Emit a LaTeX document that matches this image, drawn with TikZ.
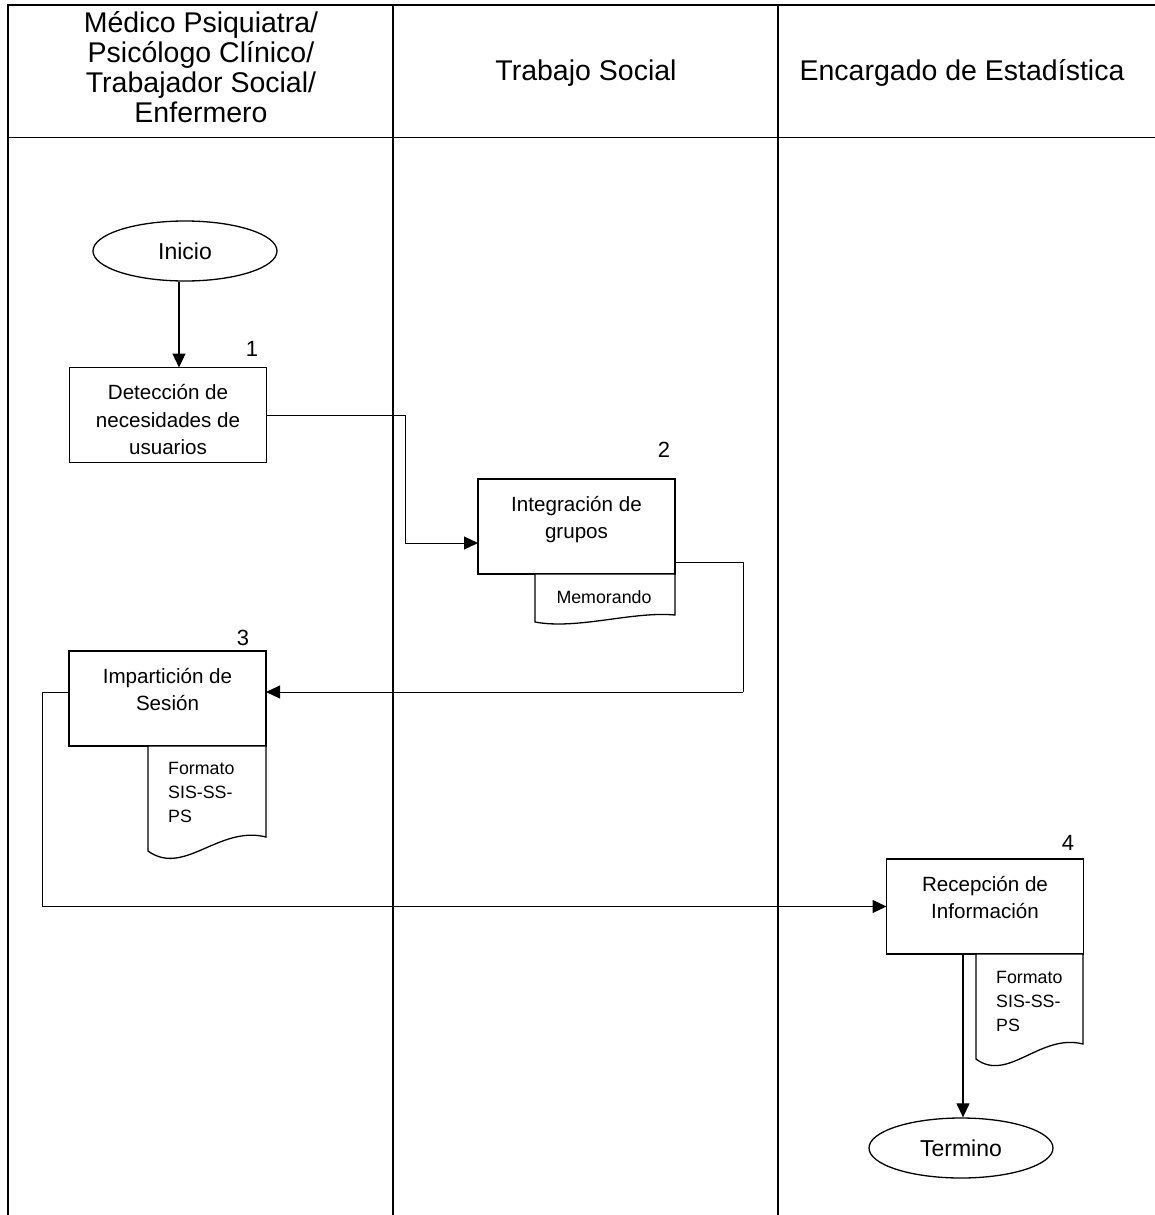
\documentclass[tikz,border=0pt]{standalone}
\usepackage{fontspec}
\setmainfont{Liberation Sans}
\usetikzlibrary{arrows.meta,shapes.geometric}

\begin{document}
\begin{tikzpicture}[x=1pt,y=-1pt,
  lane/.style={line width=2pt},
  thinrule/.style={line width=1pt},
  procbox/.style={draw, line width=1.3pt, rectangle, minimum width=197pt, minimum height=95pt, inner sep=0pt, outer sep=0pt},
  terminal/.style={draw, line width=1.3pt, ellipse, minimum width=184pt, minimum height=60pt, inner sep=0pt, font=\fontsize{23}{27}\selectfont},
  boxtext/.style={anchor=north, inner sep=0pt, align=center, font=\fontsize{20.6}{27.5}\selectfont},
  doctext/.style={anchor=north west, inner sep=0pt, align=left, font=\fontsize{17.8}{24}\selectfont},
  docshape/.style={draw, line width=1.3pt, fill=white},
  stepnum/.style={inner sep=0pt, font=\fontsize{22}{26}\selectfont},
  headtext/.style={inner sep=0pt, align=center, font=\fontsize{28.5}{30}\selectfont},
  conn/.style={line width=1pt},
  flow/.style={line width=1.2pt, -{Triangle[length=14pt,width=13pt]}},
  flowthin/.style={line width=1pt, -{Triangle[length=14pt,width=13pt]}}
]
\useasboundingbox (0,0) rectangle (1155,1215);

% swimlane frame
\draw[lane] (7.5,5) -- (1155,5);
\draw[lane] (7.5,4) -- (7.5,1215);
\draw[lane] (393,4) -- (393,1215);
\draw[lane] (778,4) -- (778,1215);
\draw[thinrule] (7.5,137) -- (1155,137);

% lane headings
\node[headtext] (h1) at (201,67) {Médico Psiquiatra/\\Psicólogo Clínico/\\Trabajador Social/\\Enfermero};
\node[headtext] (h2) at (586,73) {Trabajo Social};
\node[headtext] (h3) at (962,73) {Encargado de Estadística};

% terminals
\node[terminal] (start) at (185,251) {Inicio};
\node[terminal] (end) at (961,1148) {Termino};

% process boxes
\node[procbox] (b1) at (168,415) {};
\node[procbox] (b2) at (576.5,526.5) {};
\node[procbox] (b3) at (167.5,698.5) {};
\node[procbox] (b4) at (985,906.5) {};

\node[boxtext] (t1) at ([yshift=-12.7pt]b1.north) {\strut Detección de\\necesidades de\\usuarios};
\node[boxtext] (t2) at ([yshift=-12.7pt]b2.north) {\strut Integración de\\grupos};
\node[boxtext] (t3) at ([yshift=-12.7pt]b3.north) {\strut Impartición de\\Sesión};
\node[boxtext] (t4) at ([yshift=-12.7pt]b4.north) {\strut Recepción de\\Información};

% step numbers
\node[stepnum] (n1) at (252,349) {1};
\node[stepnum] (n2) at (664,450) {2};
\node[stepnum] (n3) at (243,638) {3};
\node[stepnum] (n4) at (1068,843) {4};

% documents attached below the boxes
\draw[docshape] (535,574) -- (675,574) -- (675,615)
  .. controls (633,611) and (577,630) .. (535,622) -- cycle;
\node[inner sep=0pt, font=\fontsize{17.8}{24}\selectfont] (d2) at (604,597) {Memorando};

\draw[docshape] (148,746) -- (266,746) -- (266,837)
  .. controls (219,825) and (184,877) .. (148,851) -- cycle;
\node[doctext] (d3) at (168,757.5) {\strut Formato\\SIS-SS-\\PS};

\draw[docshape] (976,954) -- (1083,954) -- (1083,1044)
  .. controls (1040,1033) and (1008,1083) .. (976,1059) -- cycle;
\node[doctext] (d4) at (996,966) {\strut Formato\\SIS-SS-\\PS};

% connectors
\coordinate (k1) at (405,0);
\coordinate (k2) at (743,0);
\coordinate (k3) at (42,0);
\coordinate (in2) at ([yshift=-16.5pt]b2.west);
\coordinate (out2) at ([yshift=12pt]b2.south east);
\coordinate (in3) at ([yshift=6.5pt]b3.east);
\coordinate (out3) at ([yshift=6.5pt]b3.west);
\coordinate (s0) at ([xshift=-6pt]start.south);

\draw[flow] (s0) -- (s0 |- b1.north);
\draw[conn] (b1.east) -- (b1.east -| k1) -- (k1 |- in2);
\draw[flowthin] (k1 |- in2) -- (in2);
\draw[conn] (out2) -- (out2 -| k2) -- (k2 |- in3);
\draw[flowthin] (k2 |- in3) -- (in3);
\draw[conn] (out3) -- (out3 -| k3) -- (k3 |- b4.west);
\draw[flowthin] (k3 |- b4.west) -- (b4.west);
\draw[flow] ([xshift=2pt]end.north |- b4.south) -- ([xshift=2pt]end.north);

\end{tikzpicture}
\end{document}
